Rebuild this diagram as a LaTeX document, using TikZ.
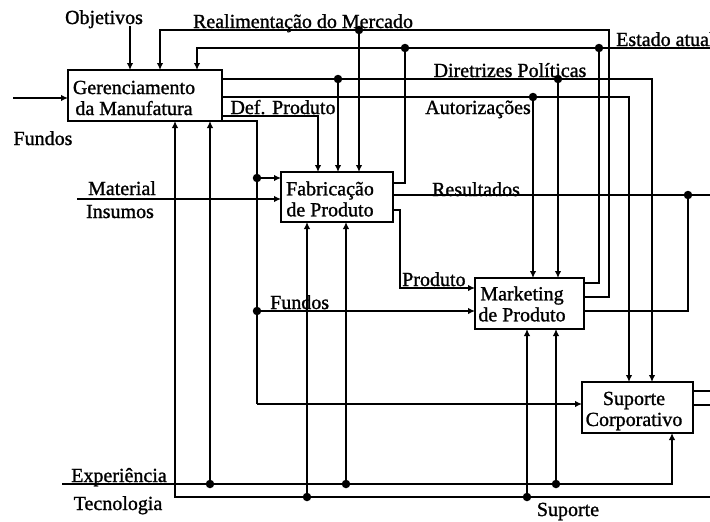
\documentclass[tikz,border=0pt]{standalone}
\usepackage{fontspec}
\setmainfont{Liberation Serif}[FakeBold=1.2]
\usetikzlibrary{arrows.meta}
\begin{document}
\begin{tikzpicture}[x=1pt,y=-1pt,
  wire/.style={line width=1.6pt},
  feed/.style={wire, -{Latex[length=7pt,width=6.5pt]}},
  box/.style={draw, line width=1.8pt, rectangle, inner sep=0pt, outer sep=0pt, anchor=north west},
  junc/.style={circle, fill, inner sep=0pt, minimum size=8.5pt},
  lbl/.style={font=\fontsize{20}{21}\selectfont, inner sep=0pt},
  btxt/.style={lbl, align=center}]
\useasboundingbox (0,0) rectangle (710,522);

% activity boxes
\node[box, minimum width=154pt, minimum height=51pt] (gm) at (68,70) {};
\node[box, minimum width=112pt, minimum height=50pt] (fp) at (281,172) {};
\node[box, minimum width=109pt, minimum height=51pt] (mp) at (475,278) {};
\node[box, minimum width=111pt, minimum height=51pt] (sc) at (582,382) {};

\node[btxt] (gmt) at (134,98) {Gerenciamento\\da Manufatura};
\node[btxt] (fpt) at (330,199) {Fabricação\\de Produto};
\node[btxt] (mpt) at (522,304) {Marketing\\de Produto};
\node[btxt] (sct) at (634,411) {Suporte\\Corporativo};

% rail points
\coordinate (objT) at (130,26);
\coordinate (fin) at (13,98);
\coordinate (min) at (77,199);
\coordinate (reR) at (609,30);
\coordinate (reL) at (160,30);
\coordinate (reJ) at (359,30);
\coordinate (eaR) at (710,48);
\coordinate (eaL) at (197,48);
\coordinate (eaJ1) at (405,48);
\coordinate (eaJ2) at (599,48);
\coordinate (drR) at (652,79);
\coordinate (drJ1) at (338,79);
\coordinate (drJ2) at (558,79);
\coordinate (auR) at (629,97);
\coordinate (auJ) at (533,97);
\coordinate (dpR) at (318,116);
\coordinate (fuT) at (257,121);
\coordinate (fuJ1) at (257,178);
\coordinate (fuJ2) at (257,311);
\coordinate (fuB) at (257,404);
\coordinate (rsR) at (710,195);
\coordinate (rsJ) at (688,195);
\coordinate (prC) at (400,288);
\coordinate (exL) at (62,484);
\coordinate (exR) at (672,484);
\coordinate (exJ1) at (210,484);
\coordinate (exJ2) at (346,484);
\coordinate (exJ3) at (556,484);
\coordinate (tcR) at (710,497);
\coordinate (tcL) at (175,497);
\coordinate (tcJ1) at (307,497);
\coordinate (tcJ2) at (527,497);
\coordinate (so1) at (710,391);
\coordinate (so2) at (710,405);

% inputs
\draw[feed] (objT) -- (objT |- gm.north);
\draw[feed] (fin) -- (fin -| gm.west);
\draw[feed] (min) -- (min -| fp.west);

% Realimentacao do Mercado
\draw[feed] ([yshift=-19pt]mp.north east) -| (reR) -- (reL) -- (reL |- gm.north);
\draw[feed] (reJ) -- (reJ |- fp.north);

% Estado atual
\draw[feed] (eaR) -- (eaL) -- (eaL |- gm.north);
\draw[wire] ([yshift=-11pt]fp.north east) -| (eaJ1);
\draw[wire] ([yshift=-5pt]mp.north east) -| (eaJ2);

% Diretrizes Politicas
\draw[feed] ([yshift=-9pt]gm.north east) -- (drR) -- (drR |- sc.north);
\draw[feed] (drJ1) -- (drJ1 |- fp.north);
\draw[feed] (drJ2) -- (drJ2 |- mp.north);

% Autorizacoes
\draw[feed] ([yshift=-27pt]gm.north east) -- (auR) -- (auR |- sc.north);
\draw[feed] (auJ) -- (auJ |- mp.north);

% Def. Produto
\draw[feed] ([yshift=-46pt]gm.north east) -- (dpR) -- (dpR |- fp.north);

% Fundos
\draw[wire] (gm.south east) -- (fuT) -- (fuB);
\draw[feed] (fuJ1) -- (fuJ1 -| fp.west);
\draw[feed] (fuJ2) -- (fuJ2 -| mp.west);
\draw[feed] (fuB) -- (fuB -| sc.west);

% Resultados
\draw[wire] ([yshift=-23pt]fp.north east) -- (rsR);
\draw[wire] ([yshift=-33pt]mp.north east) -| (rsJ);

% Produto
\draw[feed] ([yshift=-38pt]fp.north east) -| (prC) -- (prC -| mp.west);

% Experiencia / Tecnologia
\draw[feed] (exL) -- (exR) -- (exR |- sc.south);
\draw[feed] (exJ1) -- (exJ1 |- gm.south);
\draw[feed] (exJ2) -- (exJ2 |- fp.south);
\draw[feed] (exJ3) -- (exJ3 |- mp.south);
\draw[feed] (tcR) -- (tcL) -- (tcL |- gm.south);
\draw[feed] (tcJ1) -- (tcJ1 |- fp.south);
\draw[feed] (tcJ2) -- (tcJ2 |- mp.south);

% Suporte Corporativo outputs
\draw[wire] (so1 -| sc.east) -- (so1);
\draw[wire] (so2 -| sc.east) -- (so2);

% junctions
\foreach \p in {reJ,eaJ1,eaJ2,drJ1,drJ2,auJ,fuJ1,fuJ2,rsJ,exJ1,exJ2,exJ3,tcJ1,tcJ2}
  \node[junc] (d\p) at (\p) {};

% labels
\node[lbl, anchor=base] (lObj) at (104,24) {Objetivos};
\node[lbl, anchor=base] (lRe) at (303,28) {Realimentação do Mercado};
\node[lbl, anchor=base west] (lEa) at (616,46) {Estado atual};
\node[lbl, anchor=base] (lDr) at (510,77) {Diretrizes Políticas};
\node[lbl, anchor=base east] (lAu) at (531,114) {Autorizações};
\node[lbl, anchor=base] (lDp) at (283,114) {Def. Produto};
\node[lbl, anchor=base] (lFu0) at (43,145) {Fundos};
\node[lbl, anchor=base] (lMa) at (122,195) {Material};
\node[lbl, anchor=base] (lIn) at (120,218) {Insumos};
\node[lbl, anchor=base] (lRs) at (476,196) {Resultados};
\node[lbl, anchor=base west] (lPr) at (402,286) {Produto};
\node[lbl, anchor=base west] (lFu) at (270,309) {Fundos};
\node[lbl, anchor=base] (lEx) at (119,482) {Experiência};
\node[lbl, anchor=base] (lTc) at (118,510) {Tecnologia};
\node[lbl, anchor=base] (lSu) at (568,516) {Suporte};
\end{tikzpicture}
\end{document}
